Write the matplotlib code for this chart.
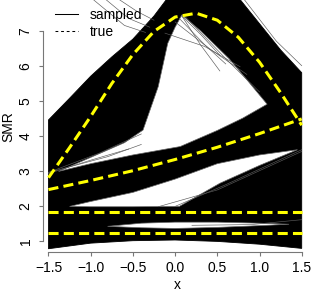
import numpy as np
import matplotlib
matplotlib.use("Agg")
import matplotlib.pyplot as plt
from matplotlib.lines import Line2D

plt.rcParams['font.family'] = ['Liberation Sans', 'DejaVu Sans']
plt.rcParams['font.size'] = 10

# true curves
grid = [-1.5, -1.25, -1.0, -0.75, -0.5, -0.25, 0.0, 0.25, 0.5, 0.75, 1.0, 1.25, 1.5]
true_peak = [2.80, 3.66, 4.55, 5.49, 6.32, 6.98, 7.39, 7.50, 7.30, 6.81, 6.10, 5.23, 4.30]
rise_x = [-1.5, -1.0, -0.5, 0.0, 0.5, 1.0, 1.5]
true_rise = [2.46, 2.72, 3.00, 3.32, 3.67, 4.06, 4.48]
flat_x = [-1.5, 1.5]
true_mid = [1.83, 1.83]
true_low = [1.23, 1.23]

# envelope of all sampled curves
top_x = [-1.5, -1.25, -1.0, -0.75, -0.5, -0.25, -0.1, 0.0, 0.25, 0.5, 0.75, 1.0, 1.25, 1.5]
top_y = [4.45, 5.07, 5.70, 6.25, 6.76, 7.42, 7.9, 8.3, 8.6, 8.5, 7.95, 7.2, 6.45, 5.8]
bot_x = [-1.5, -1.0, -0.5, 0.0, 0.5, 1.0, 1.5]
bot_y = [0.77, 0.93, 1.00, 1.02, 0.98, 0.90, 0.78]

# empty gaps between the sampled bands
gap_pr_x = [-1.38, -1.0, -0.6, -0.38, -0.2, -0.087, 0.0, 0.08, 0.3, 0.64, 0.85, 1.09,
            0.8, 0.5, 0.06, -0.5, -1.0, -1.38]
gap_pr_y = [2.98, 3.38, 3.8, 4.16, 5.4, 6.64, 7.1, 7.45, 7.0, 6.2, 5.6, 4.9,
            4.5, 4.15, 3.69, 3.45, 3.2, 2.98]
gap_rm_x = [-1.25, -1.0, -0.5, 0.0, 0.5, 1.0, 1.45, 1.0, 0.53, 0.05, -0.5, -1.0, -1.25]
gap_rm_y = [1.98, 2.12, 2.38, 2.76, 3.2, 3.45, 3.6, 3.15, 2.64, 1.98, 1.97, 1.97, 1.98]
gap_ml_x = [-0.8, -0.4, 0.0, 0.5, 1.0, 1.35, 1.0, 0.5, 0.0, -0.4, -0.8]
gap_ml_y = [1.41, 1.50, 1.53, 1.53, 1.50, 1.47, 1.43, 1.38, 1.35, 1.37, 1.41]

# a few stray sampled curves that stick out of the bands
stray = [
    ([-1.0, -0.6, -0.35], [7.95, 7.15, 6.95]),
    ([-0.85, -0.55, -0.3], [7.95, 7.35, 7.1]),
    ([-0.7, -0.45, -0.25], [7.95, 7.55, 7.3]),
    ([-0.12, 0.35, 0.77], [6.93, 6.55, 5.97]),
    ([0.0, 0.4, 0.85], [7.25, 6.5, 5.75]),
    ([0.05, 0.35, 0.6], [7.35, 6.6, 6.05]),
    ([0.08, 0.3, 0.53], [7.42, 6.6, 5.85]),
    ([0.08, 0.3, 0.53], [7.42, 6.9, 6.3]),
    ([0.1, 0.6, 1.0], [7.45, 6.2, 5.25]),
    ([-1.5, -0.9, -0.4], [2.95, 3.5, 4.05]),
    ([-1.5, -0.8, -0.4], [2.95, 3.4, 3.75]),
    ([-1.5, -1.0, -0.55], [2.92, 3.3, 3.62]),
    ([0.0, 0.6, 1.5], [1.98, 2.6, 3.6]),
    ([-0.2, 0.5, 1.5], [1.97, 2.45, 3.55]),
    ([0.2, 0.9, 1.5], [1.44, 1.46, 1.6]),
    ([0.8, 1.2, 1.5], [7.95, 6.7, 6.0]),
]

fig = plt.figure(figsize=(3.12, 2.91), dpi=100)
ax = fig.add_axes([43/312, 39/291, 264.2/312, 252/291])
ax.set_xlim(-1.565, 1.565)
ax.set_ylim(0.677, 7.877)

ax.fill(np.r_[top_x, bot_x[::-1]], np.r_[top_y, bot_y[::-1]], color='black', lw=0.6)
for gx, gy in [(gap_pr_x, gap_pr_y), (gap_rm_x, gap_rm_y), (gap_ml_x, gap_ml_y)]:
    ax.fill(gx, gy, facecolor='white', edgecolor='0.4', lw=0.5)
for sx, sy in stray:
    ax.plot(sx, sy, color='0.35', lw=0.45)

yel = dict(color='#ffff00', lw=2.2, dashes=(3.3, 1.7), dash_capstyle='butt')
ax.plot(grid, true_peak, **yel)
ax.plot(rise_x, true_rise, **yel)
ax.plot(flat_x, true_mid, **yel)
ax.plot(flat_x, true_low, **yel)

handles = [Line2D([], [], color='black', lw=0.75, label='sampled'),
           Line2D([], [], color='black', lw=0.75, ls=(0, (2.7, 2.7)), label='true')]
ax.legend(handles=handles, loc='upper left', bbox_to_anchor=(55/312, 1 - 8/291),
          bbox_transform=fig.transFigure, frameon=False, borderpad=0, borderaxespad=0,
          handlelength=1.65, handletextpad=0.85, labelspacing=0.2, fontsize=10)

for s in ['top', 'right']:
    ax.spines[s].set_visible(False)
ax.spines['left'].set_bounds(1, 7)
ax.spines['bottom'].set_bounds(-1.5, 1.5)
for s in ['left', 'bottom']:
    ax.spines[s].set_color('#777777')
    ax.spines[s].set_linewidth(0.8)

ax.set_xticks([-1.5, -1.0, -0.5, 0.0, 0.5, 1.0, 1.5])
ax.set_xticklabels(['\u22121.5', '\u22121.0', '\u22120.5', '0.0', '0.5', '1.0', '1.5'])
ax.set_yticks([1, 2, 3, 4, 5, 6, 7])
ax.tick_params(length=3, width=0.8, color='#777777', labelsize=10)
ax.tick_params(axis='x', pad=3.2)
ax.tick_params(axis='y', pad=4.5, labelrotation=90)
for lab in ax.get_yticklabels():
    lab.set_va('center')

fig.text(177/312, 1 - 289/291, 'x', ha='center', va='baseline', fontsize=10)
fig.text(8.65/312, 1 - 126.5/291, 'SMR', rotation=90, ha='center', va='center', fontsize=10)

fig.savefig('out.png', dpi=100)
